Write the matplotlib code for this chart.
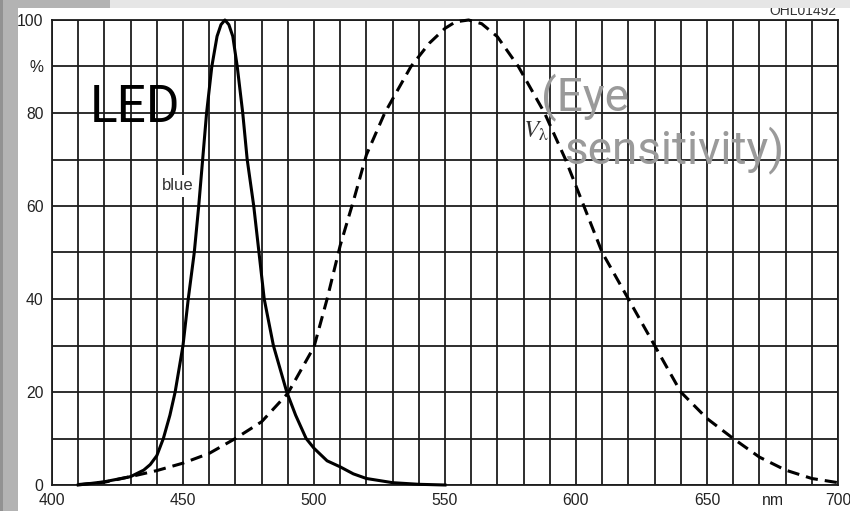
import numpy as np
import matplotlib
matplotlib.use("Agg")
import matplotlib.pyplot as plt
from matplotlib.patches import Rectangle

# blue LED relative spectral emission (%)
WL_BLUE = [410, 420, 430, 435, 437.5, 440, 442.5, 445, 447, 450, 452, 454.3, 456, 457.5, 459,
           461, 463, 464.5, 466, 467.5, 469, 470.7, 472.8, 474.5, 477, 479, 481,
           484.5, 489.6, 493, 497, 500, 505, 510, 515, 520, 530, 540, 550]
BLUE = [0, 0.7, 1.8, 3.2, 4.4, 6.3, 10, 15, 20, 30, 40, 50, 60, 70, 80,
        90, 96.5, 99, 100, 99, 96.5, 90, 80, 70, 60, 50, 40,
        30, 20, 15, 10, 7.9, 5.2, 3.9, 2.4, 1.4, 0.5, 0.15, 0]

# eye sensitivity V_lambda (%), dashed
WL_EYE = [410, 420, 430, 440, 450, 460, 470, 480, 490, 500, 505, 510, 515, 520, 527,
          537, 544, 550, 554, 559, 564, 570, 578, 588, 596, 603, 610, 620, 630, 640,
          650, 660, 670, 680, 690, 700]
EYE = [0.1, 0.6, 1.8, 3.1, 4.7, 6.8, 10.0, 13.6, 19.7, 29.7, 40, 51.5, 61, 71, 80,
       90, 95, 98.2, 99.6, 100, 99.2, 96.4, 90, 80, 70, 60, 50, 40, 30, 20,
       14.3, 10, 6, 3.2, 1.4, 0.5]

XTICKS = [400, 450, 500, 550, 600, 650, 675, 700]
XLABELS = ["400", "450", "500", "550", "600", "650", "nm", "700"]
YTICKS = [0, 20, 40, 60, 80, 90, 100]
YLABELS = ["0", "20", "40", "60", "80", "%", "100"]

W, H = 850, 511
INK = "#1c1c1c"
SANS = ["Liberation Sans", "DejaVu Sans"]


def fx(px):
    return px / W


def fy(py):
    return 1 - py / H


fig = plt.figure(figsize=(W / 100, H / 100), dpi=100)
ax = fig.add_axes([fx(52), fy(485), (838 - 52) / W, (485 - 20) / H])

ax.plot(WL_BLUE, BLUE, color="black", lw=2.2, solid_joinstyle="round", clip_on=False, zorder=3)
ax.plot(WL_EYE, EYE, color="black", lw=2.2, dashes=(4, 2.3), clip_on=False, zorder=3)

ax.set_xlim(400, 700)
ax.set_ylim(0, 100)
ax.set_xticks(XTICKS)
ax.set_xticklabels(XLABELS)
ax.set_yticks(YTICKS)
ax.set_yticklabels(YLABELS)
ax.set_xticks(np.arange(400, 701, 10), minor=True)
ax.set_yticks(np.arange(0, 101, 10), minor=True)
ax.xaxis.remove_overlapping_locs = False
ax.yaxis.remove_overlapping_locs = False
ax.tick_params(which="both", length=0)
ax.tick_params(axis="x", pad=6)
ax.tick_params(axis="y", pad=6)
for lab in ax.get_xticklabels() + ax.get_yticklabels():
    lab.set_family(SANS)
    lab.set_fontsize(11.3)
    lab.set_color("#222222")
ax.grid(True, which="minor", color=INK, lw=1.3)
ax.set_axisbelow(True)
for s in ax.spines.values():
    s.set_color(INK)
    s.set_linewidth(1.3)

# curve labels
ax.text(441.9, 63.4, "blue", family=SANS, fontsize=12, color="#333333",
        ha="left", va="baseline", zorder=4,
        bbox=dict(boxstyle="square,pad=0.2", fc="white", ec="none"))
ax.text(579.6, 74.6, r"$V_{\mathrm{\lambda}}$", fontsize=18, color="#333333",
        math_fontfamily="stix", ha="left", va="baseline", zorder=4)

# overlay annotations
fig.text(fx(90), fy(121.7), "LED", family="Roboto", fontsize=37, color="black",
         va="baseline", zorder=5)
fig.text(fx(541), fy(110), "(Eye", family="Roboto", fontsize=33, color="#9a9a9a",
         va="baseline", zorder=5)
fig.text(fx(565), fy(163.3), "sensitivity)", family="Roboto", fontsize=33, color="#9a9a9a",
         va="baseline", zorder=5)

fig.text(fx(837), fy(15), "OHL01492", family=SANS, fontsize=10, color="#333333",
         ha="right", va="baseline", zorder=5)

# scan frame: grey bars on top and left
bands = [((0, fy(8)), 1, 8 / H, "#e6e6e6"),
         ((0, fy(8)), fx(110), 8 / H, "#b3b3b3"),
         ((0, 0), fx(18), 1, "#b3b3b3"),
         ((0, 0), fx(3), 1, "#929292")]
for xy, w, h, c in bands:
    fig.patches.append(Rectangle(xy, w, h, transform=fig.transFigure, fc=c, ec="none", zorder=10))

fig.savefig("out.png", dpi=100)
